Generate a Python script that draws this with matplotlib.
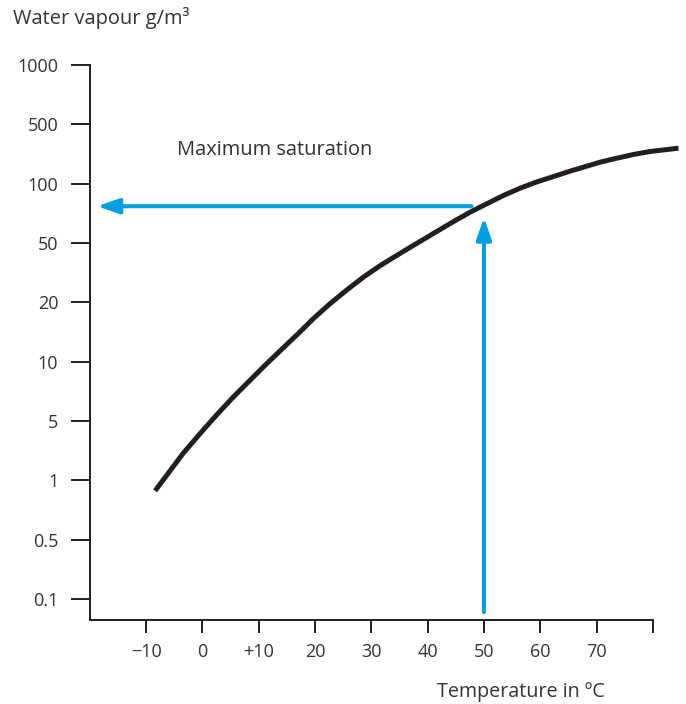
import numpy as np
import matplotlib
matplotlib.use("Agg")
import matplotlib.pyplot as plt

plt.rcParams['font.family'] = ['Open Sans', 'DejaVu Sans']

# y axis is drawn with evenly spaced, non-linear labels
y_labels = ['0.1', '0.5', '1', '5', '10', '20', '50', '100', '500', '1000']
y_pos = np.arange(len(y_labels))

x_ticks = [-10, 0, 10, 20, 30, 40, 50, 60, 70, 80]
x_labels = ['\u221210', '0', '+10', '20', '30', '40', '50', '60', '70', '']

# saturation curve (temperature, position on label scale)
temp = [-8.40, -5.74, -3.37, -0.39, 2.56, 5.51, 8.47, 11.44, 14.99, 16.77,
        19.72, 22.68, 25.65, 28.60, 31.56, 34.53, 37.48, 40.14, 41.63, 44.58,
        47.55, 50.52, 53.46, 56.43, 59.40, 62.95, 64.72, 67.67, 70.64, 73.61,
        76.55, 79.52, 84.55]
sat = [1.823, 2.160, 2.460, 2.790, 3.105, 3.406, 3.687, 3.968, 4.290, 4.450,
       4.726, 4.978, 5.208, 5.425, 5.618, 5.791, 5.960, 6.110, 6.195, 6.360,
       6.520, 6.662, 6.801, 6.924, 7.030, 7.138, 7.194, 7.278, 7.362, 7.429,
       7.492, 7.542, 7.598]

# example reading at 50 degrees
t_read = 50
h_read = 6.62

blue = '#009fe3'
ink = '#231f20'
txt = '#333333'

fig = plt.figure(figsize=(6.86, 7.04), dpi=100)
ax = fig.add_axes([0.1308, 0.1193, 0.862, 0.7884])

ax.plot(temp, sat, color=ink, lw=3.6, solid_capstyle='butt', solid_joinstyle='round')

# arrows
style = '-|>,head_length=1.3,head_width=0.45'
ax.annotate('', xy=(t_read, 6.43), xytext=(t_read, -0.22),
            arrowprops=dict(arrowstyle=style, color=blue, lw=2.9, shrinkA=0, shrinkB=0))
ax.annotate('', xy=(-18.7, h_read), xytext=(47.8, h_read),
            arrowprops=dict(arrowstyle=style, color=blue, lw=2.9, shrinkA=0, shrinkB=0))

ax.text(-4.5, 7.56, 'Maximum saturation', fontsize=14.4, color=txt, va='center', ha='left')

ax.set_xlim(-20, 85)
ax.set_ylim(-0.354, 9.0)
ax.spines['top'].set_visible(False)
ax.spines['right'].set_visible(False)
ax.spines['left'].set_bounds(-0.354, 9)
ax.spines['bottom'].set_bounds(-20, 80)
for s in ['left', 'bottom']:
    ax.spines[s].set_linewidth(1.4)
    ax.spines[s].set_color(ink)

ax.set_yticks(y_pos)
ax.set_yticklabels(y_labels)
ax.set_xticks(x_ticks)
ax.set_xticklabels(x_labels)
ax.tick_params(axis='y', length=13.7, width=1.4, color=ink, labelsize=13, labelcolor=txt, pad=9)
ax.tick_params(axis='x', length=9.4, width=1.4, color=ink, labelsize=13, labelcolor=txt, pad=7)

fig.text(13/686, 1 - 18/704, 'Water vapour g/m\u00b3', fontsize=14.4, color=txt, ha='left', va='center')
fig.text(521/686, 1 - 692/704, 'Temperature in \u00baC', fontsize=14.2, color=txt, ha='center', va='center')

fig.savefig('out.png', dpi=100)
